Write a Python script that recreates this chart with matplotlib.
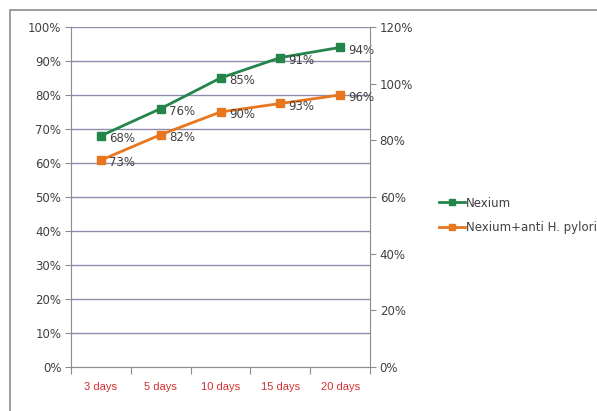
import matplotlib.pyplot as plt
from matplotlib.patches import Rectangle

categories = ["3 days", "5 days", "10 days", "15 days", "20 days"]
nexium = [68, 76, 85, 91, 94]
nexium_hp = [73, 82, 90, 93, 96]

GREEN = "#23854a"
ORANGE = "#e8761e"
GRID = "#8c8cac"
TEXT = "#404040"


def main() -> None:
  fig = plt.figure(figsize=(5.97, 4.11), dpi=100)
  # outer chart border
  fig.patches.append(Rectangle((10 / 597, -0.01), 1.0, 1 - 10 / 411 + 0.01,
                               transform=fig.transFigure, fill=False,
                               edgecolor="#8c8c8c", linewidth=1.2))

  ax = fig.add_axes([71 / 597, 1 - 367 / 411, 299 / 597, 340 / 411])
  ax2 = ax.twinx()

  x = list(range(len(categories)))

  ax.set_xlim(-0.5, len(categories) - 0.5)
  ax.set_ylim(0, 100)
  ax2.set_ylim(0, 120)

  ax.set_yticks(range(0, 101, 10))
  ax.set_yticklabels([f"{v}%" for v in range(0, 101, 10)])
  ax2.set_yticks(range(0, 121, 20))
  ax2.set_yticklabels([f"{v}%" for v in range(0, 121, 20)])

  for v in range(10, 101, 10):
    ax.axhline(v, color=GRID, linewidth=1.0, zorder=0)

  ax.plot(x, nexium, color=GREEN, marker="s", markersize=6, linewidth=2.0,
          label="Nexium", zorder=3)
  ax2.plot(x, nexium_hp, color=ORANGE, marker="s", markersize=6, linewidth=2.0,
           label="Nexium+anti H. pylori", zorder=3)

  for xi, v in zip(x, nexium):
    ax.annotate(f"{v}%", (xi, v), xytext=(6, -2), textcoords="offset points",
                va="center", ha="left", fontsize=8.5, color=TEXT)
  for xi, v in zip(x, nexium_hp):
    ax2.annotate(f"{v}%", (xi, v), xytext=(6, -2), textcoords="offset points",
                 va="center", ha="left", fontsize=8.5, color=TEXT)

  # category ticks at boundaries, labels at centers
  ax.set_xticks([i - 0.5 for i in range(len(categories) + 1)])
  ax.set_xticklabels([])
  ax.set_xticks(x, minor=True)
  ax.set_xticklabels(categories, minor=True, color="#d03030", fontsize=8,
                     family="Liberation Sans")
  ax.tick_params(axis="x", which="major", length=5, color="#8c8c8c",
                 direction="out")
  ax.tick_params(axis="x", which="minor", length=0, pad=11)

  ax.tick_params(axis="y", length=4, color="#8c8c8c", labelsize=8.5,
                 labelcolor=TEXT, pad=3)
  ax2.tick_params(axis="y", length=4, color="#8c8c8c", labelsize=8.5,
                  labelcolor=TEXT, pad=3)

  for a in (ax, ax2):
    a.spines["top"].set_visible(False)
    a.spines["left"].set_color("#8c8c8c")
    a.spines["right"].set_color("#8c8c8c")
    a.spines["bottom"].set_color("#8c8c8c")
  ax2.spines["left"].set_visible(False)
  ax.spines["right"].set_visible(False)

  h1, l1 = ax.get_legend_handles_labels()
  h2, l2 = ax2.get_legend_handles_labels()
  leg = fig.legend(h1 + h2, l1 + l2, loc="upper left",
                   bbox_to_anchor=(428 / 597, 1 - 186 / 411), frameon=False,
                   fontsize=8.5, handlelength=2.2, handletextpad=0.1,
                   labelspacing=1.0, labelcolor=TEXT)
  for line in leg.get_lines():
    line.set_markersize(5)

  fig.savefig("out.png", dpi=100)


if __name__ == "__main__":
  main()
